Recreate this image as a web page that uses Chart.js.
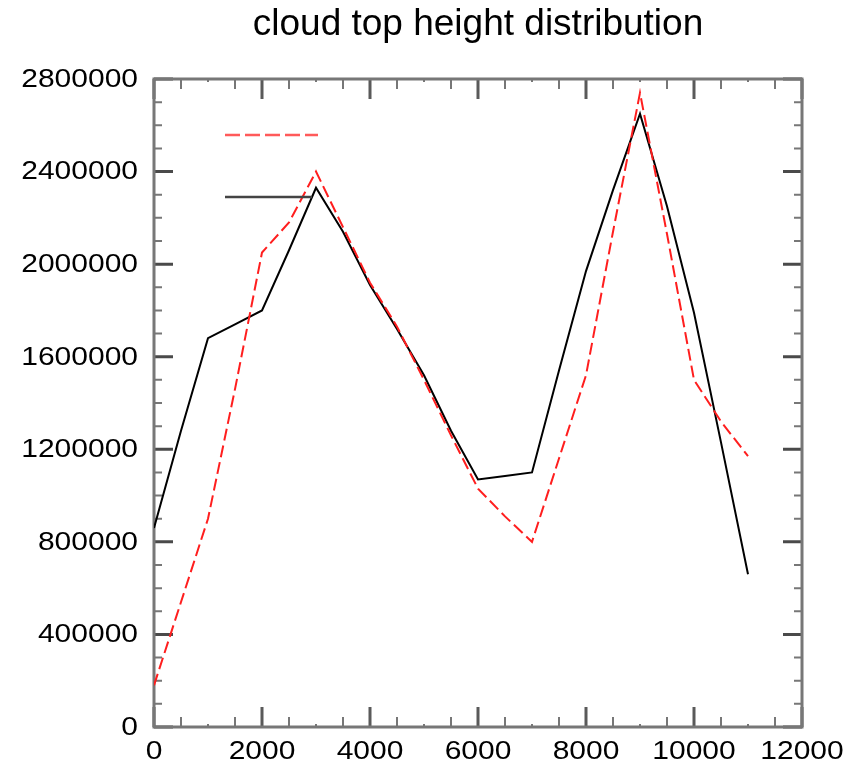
<!DOCTYPE html>
<html>
<head>
<meta charset="utf-8">
<title>cloud top height distribution</title>
<script src="https://cdn.jsdelivr.net/npm/chart.js@4.4.1/dist/chart.umd.min.js"></script>
<style>
    html, body { margin: 0; padding: 0; background: #fff; }
    #chart { display: block; }
</style>
</head>
<body>
<canvas id="chart" width="843" height="772"></canvas>
<script>
// cloud top height (m), one point every 500 m
const heights = [0, 500, 1000, 1500, 2000, 2500, 3000, 3500, 4000, 4500, 5000, 5500,
                 6000, 6500, 7000, 7500, 8000, 8500, 9000, 9500, 10000, 10500, 11000];

// solid black curve
const solidCounts = [860000, 1280000, 1680000, 1740000, 1800000, 2060000, 2330000, 2140000,
                     1910000, 1720000, 1520000, 1280000, 1070000, 1085000, 1100000, 1540000,
                     1970000, 2320000, 2650000, 2250000, 1790000, 1230000, 660000];

// dashed red curve
const dashedCounts = [180000, 540000, 900000, 1460000, 2050000, 2180000, 2400000, 2160000,
                      1920000, 1730000, 1500000, 1260000, 1030000, 910000, 800000, 1160000,
                      1520000, 2140000, 2740000, 2130000, 1500000, 1320000, 1170000];

// tick labels
const xTickValues = [0, 2000, 4000, 6000, 8000, 10000, 12000];
const yTickValues = [0, 400000, 800000, 1200000, 1600000, 2000000, 2400000, 2800000];

const LABEL_FONT = '25px "Liberation Sans", Arial, sans-serif';
const LABEL_STRETCH = 1.2;

function toPoints(ys) {
    return heights.map((h, i) => ({ x: h, y: ys[i] }));
}

// NCL-like frame with inward ticks on all four sides
const frameTicks = {
    id: 'frameTicks',
    beforeDatasetsDraw(chart) {
        const { ctx, chartArea: a, scales } = chart;
        const xs = scales.x, ys = scales.y;
        ctx.save();

        // x ticks (bottom and top)
        for (let v = 0; v <= 12000; v += 500) {
            const px = xs.getPixelForValue(v);
            let len, w, col;
            if (v % 2000 === 0) { len = 20; w = 3; col = '#5a5a5a'; }
            else if (v % 1000 === 0) { len = 3; w = 2; col = '#777'; }
            else { len = 10; w = 2; col = '#777'; }
            ctx.strokeStyle = col;
            ctx.lineWidth = w;
            ctx.beginPath();
            ctx.moveTo(px, a.bottom); ctx.lineTo(px, a.bottom - len);
            ctx.moveTo(px, a.top); ctx.lineTo(px, a.top + len);
            ctx.stroke();
        }

        // y ticks (left and right)
        for (let v = 0; v <= 2800000; v += 100000) {
            const py = ys.getPixelForValue(v);
            const major = v % 400000 === 0;
            ctx.strokeStyle = major ? '#4a4a4a' : '#777';
            ctx.lineWidth = major ? 3 : 2;
            const len = major ? 19 : 8;
            ctx.beginPath();
            ctx.moveTo(a.left, py); ctx.lineTo(a.left + len, py);
            ctx.moveTo(a.right, py); ctx.lineTo(a.right - len, py);
            ctx.stroke();
        }

        // frame
        ctx.strokeStyle = '#777';
        ctx.lineWidth = 3;
        ctx.strokeRect(a.left, a.top, a.right - a.left, a.bottom - a.top);
        ctx.restore();
    },
    afterDraw(chart) {
        const { ctx, chartArea: a, scales } = chart;
        ctx.save();
        ctx.fillStyle = '#000';
        ctx.font = LABEL_FONT;
        ctx.textBaseline = 'middle';

        // y labels, right aligned
        ctx.textAlign = 'right';
        yTickValues.forEach(v => {
            ctx.save();
            ctx.translate(a.left - 16, scales.y.getPixelForValue(v) + 1);
            ctx.scale(LABEL_STRETCH, 1);
            ctx.fillText(String(v), 0, 0);
            ctx.restore();
        });

        // x labels, centered
        ctx.textAlign = 'center';
        xTickValues.forEach(v => {
            ctx.save();
            ctx.translate(scales.x.getPixelForValue(v), a.bottom + 25);
            ctx.scale(LABEL_STRETCH, 1);
            ctx.fillText(String(v), 0, 0);
            ctx.restore();
        });

        // legend lines (no labels in the original)
        ctx.lineWidth = 2.5;
        ctx.strokeStyle = 'rgb(255, 90, 90)';
        ctx.setLineDash([15, 5]);
        ctx.beginPath();
        ctx.moveTo(225, 135); ctx.lineTo(318, 135);
        ctx.stroke();
        ctx.setLineDash([]);
        ctx.strokeStyle = '#444';
        ctx.beginPath();
        ctx.moveTo(225, 197); ctx.lineTo(312, 197);
        ctx.stroke();
        ctx.restore();
    }
};

new Chart(document.getElementById('chart'), {
    type: 'line',
    data: {
        datasets: [
            {
                label: 'dashed',
                data: toPoints(dashedCounts),
                borderColor: 'rgb(255, 30, 30)',
                borderWidth: 2,
                borderDash: [12, 5],
                pointRadius: 0,
                tension: 0,
                fill: false
            },
            {
                label: 'solid',
                data: toPoints(solidCounts),
                borderColor: '#000',
                borderWidth: 2,
                pointRadius: 0,
                tension: 0,
                fill: false
            }
        ]
    },
    options: {
        responsive: false,
        animation: false,
        devicePixelRatio: 1,
        layout: { padding: { left: 0, right: 41, top: 0, bottom: 0 } },
        plugins: {
            legend: { display: false },
            tooltip: { enabled: false },
            title: {
                display: true,
                fullSize: false,
                text: 'cloud top height distribution',
                color: '#000',
                font: { family: '"Liberation Sans", Arial, sans-serif', size: 37, weight: 'normal' },
                padding: { top: 3, bottom: 31.6 }
            }
        },
        scales: {
            x: {
                type: 'linear',
                min: 0,
                max: 12000,
                grid: { display: false },
                border: { display: false },
                ticks: { display: false },
                afterFit(scale) { scale.height = 45; }
            },
            y: {
                type: 'linear',
                min: 0,
                max: 2800000,
                grid: { display: false },
                border: { display: false },
                ticks: { display: false },
                afterFit(scale) { scale.width = 154; }
            }
        }
    },
    plugins: [frameTicks]
});
</script>
</body>
</html>
